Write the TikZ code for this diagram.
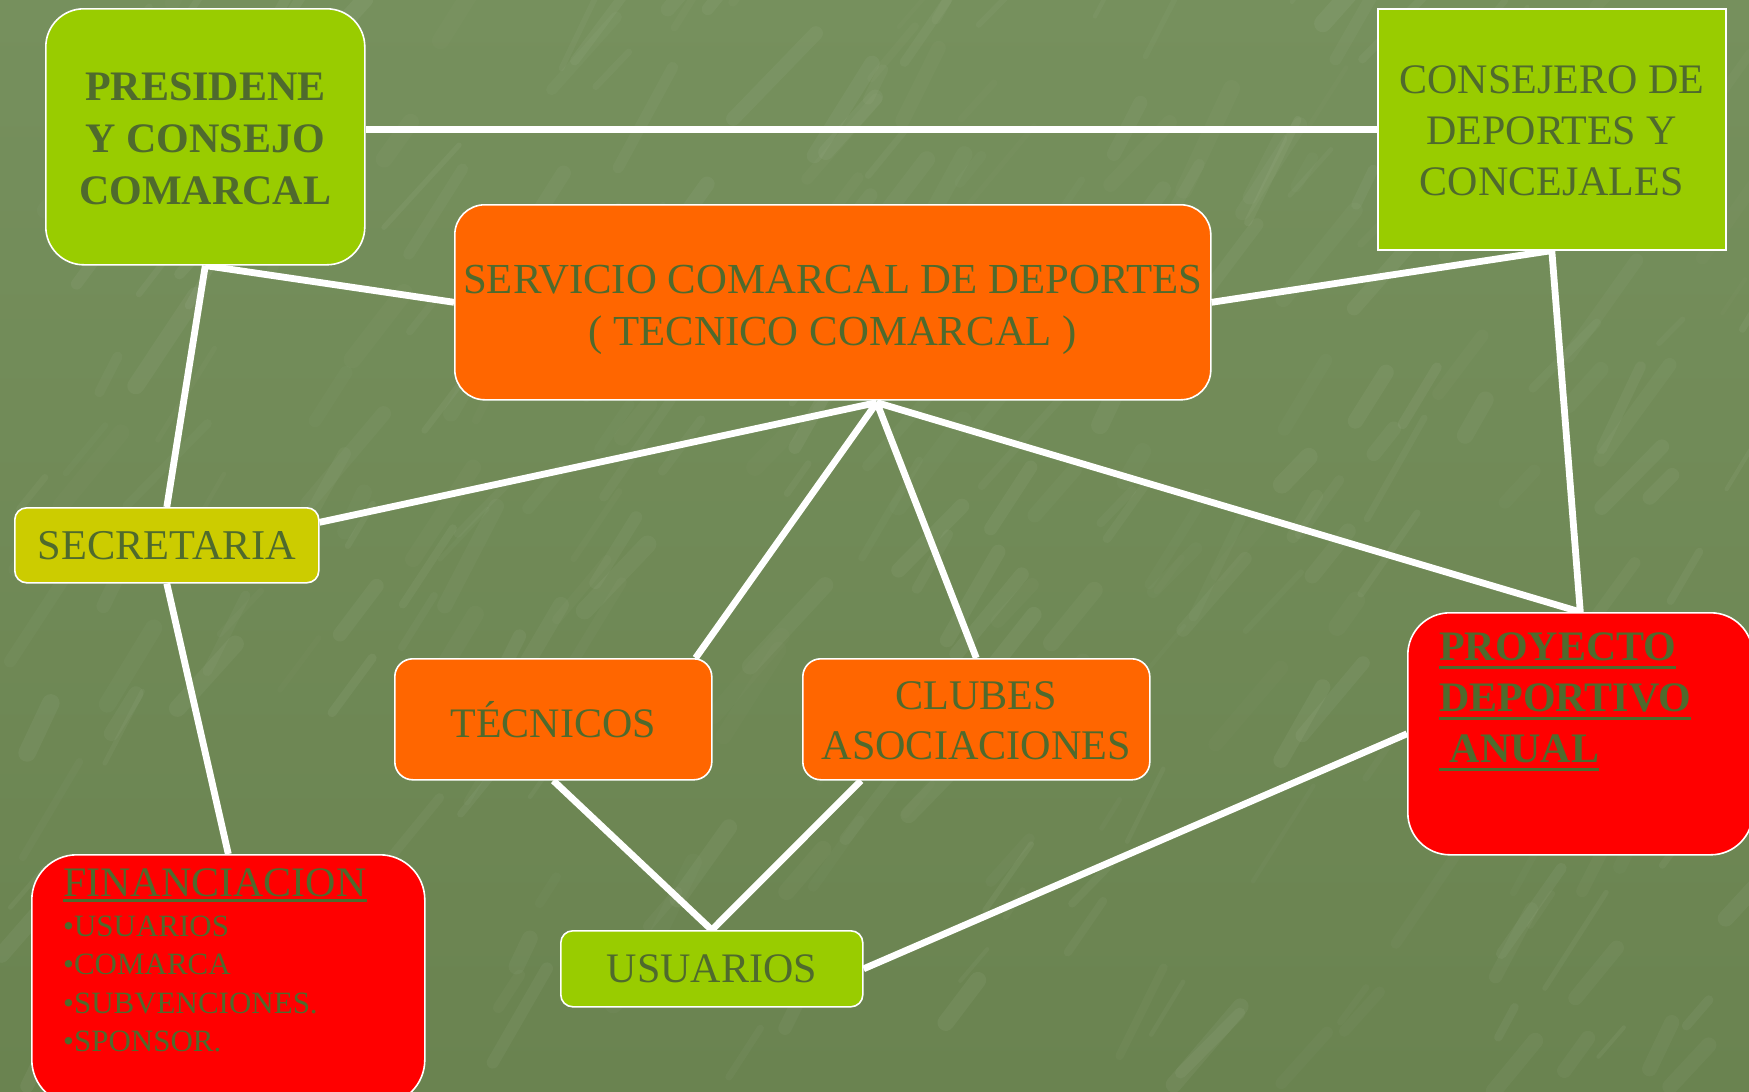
\documentclass[tikz,border=0pt]{standalone}
\usepackage{fontspec}
\setmainfont{Liberation Serif}
\usetikzlibrary{calc}
\pgfdeclarelayer{bg}
\pgfsetlayers{bg,main}
\definecolor{txt}{HTML}{4F6A2D}
\definecolor{lime}{HTML}{99CC00}
\definecolor{orng}{HTML}{FF6600}
\definecolor{ylw}{HTML}{CCCC00}
\definecolor{rd}{HTML}{FF0000}
\definecolor{bgtop}{HTML}{76905D}
\definecolor{bgbot}{HTML}{6A8350}
\newcommand\myul[3]{\setbox0\hbox{#3}\rlap{\rule[-#1]{\wd0}{#2}}\box0}
\tikzset{
  box/.style={draw=white, line width=1.6pt, inner sep=0pt, anchor=north west,
    text=txt, font=\fontsize{42}{51}\selectfont, align=center},
  conn/.style={draw=white, line width=6.8pt},
  streak/.style={white, line cap=round},
}
\begin{document}
\begin{tikzpicture}[x=1pt,y=-1pt]
\useasboundingbox (0,0) rectangle (1749,1092);
\begin{pgfonlayer}{bg}
  \shade[top color=bgtop, bottom color=bgbot] (0,0) rectangle (1749,1092);
  \pgfmathsetseed{11}
  \foreach \i in {1,...,300}{
    \pgfmathsetmacro\xx{rnd*1749}
    \pgfmathsetmacro\yy{rnd*1092}
    \pgfmathsetmacro\ll{30+rnd*90}
    \pgfmathsetmacro\aa{-45-rnd*20}
    \pgfmathsetmacro\ww{4+rnd*14}
    \pgfmathsetmacro\oo{0.015+rnd*0.035}
    \draw[streak, line width=\ww pt, opacity=\oo] (\xx,\yy) -- ++(\aa:\ll);
  }
\end{pgfonlayer}

\node[box, fill=lime, rounded corners=38pt, minimum width=319pt, minimum height=256pt,
      font=\fontsize{42}{52}\selectfont\bfseries] (pres) at (45,8)
      {\rule{0pt}{32pt}PRESIDENE\\Y CONSEJO\\COMARCAL};
\node[box, fill=lime, minimum width=348pt, minimum height=241pt] (cons) at (1377,8)
      {\rule{0pt}{31pt}CONSEJERO DE\\DEPORTES Y\\CONCEJALES};
\node[box, fill=orng, rounded corners=30pt, minimum width=756pt, minimum height=195pt,
      font=\fontsize{42.8}{52}\selectfont] (serv) at (454,204)
      {\rule{0pt}{44pt}SERVICIO COMARCAL DE DEPORTES\\( TECNICO COMARCAL )};
\node[box, fill=ylw, rounded corners=12pt, minimum width=304pt, minimum height=75pt,
      font=\fontsize{42.4}{51}\selectfont] (secr) at (14,507)
      {SECRETARIA};
\node[box, fill=orng, rounded corners=18pt, minimum width=317pt, minimum height=121pt] (tec) at (394,658)
      {TÉCNICOS};
\node[box, fill=orng, rounded corners=18pt, minimum width=347pt, minimum height=121pt,
      font=\fontsize{42.2}{50}\selectfont] (club) at (802,658)
      {\rule{0pt}{30pt}CLUBES\\ASOCIACIONES};
\node[box, fill=lime, rounded corners=12pt, minimum width=302pt, minimum height=76pt] (usu) at (560,930)
      {USUARIOS};
\node[box, fill=rd, rounded corners=42pt, minimum width=345pt, minimum height=242pt] (proy) at (1407,612) {};
\node[box, fill=rd, rounded corners=45pt, minimum width=393pt, minimum height=250pt] (fin) at (31,854) {};

\node[anchor=north west, inner sep=0pt, text=txt, align=left,
      font=\fontsize{42}{51}\selectfont\bfseries] (proytxt) at (1439,632)
      {\myul{9pt}{3.5pt}{PROYECTO}\\\myul{9pt}{3.5pt}{DEPORTIVO}\\\myul{9pt}{3.5pt}{\ ANUAL}};
\node[anchor=north west, inner sep=0pt, text=txt, align=left,
      font=\fontsize{31}{38.5}\selectfont] (fintxt) at (63,868)
      {{\fontsize{42}{51}\selectfont\myul{5.5pt}{2.5pt}{FINANCIACION}}\\[1.5pt]
       •USUARIOS\\•COMARCA\\•SUBVENCIONES.\\•SPONSOR.};

\coordinate (hub) at ($(serv.south)+(44,2)$);
\begin{pgfonlayer}{bg}
  \draw[conn] (cons.west -| pres.east) -- (cons.west);
  \draw[conn] (pres.south) -- (serv.west);
  \draw[conn] (pres.south) -- (secr.north);
  \draw[conn] (cons.south) -- (serv.east);
  \draw[conn] (cons.south) -- (proy.north);
  \draw[conn] (hub) -- ($(secr.east)+(0,-23)$);
  \draw[conn] (hub) -- ($(tec.north east)+(-17,0)$);
  \draw[conn] (hub) -- (club.north);
  \draw[conn] (hub) -- (proy.north);
  \draw[conn] (secr.south) -- (fin.north);
  \draw[conn] (tec.south) -- (usu.north);
  \draw[conn] ($(club.south west)+(59,0)$) -- (usu.north);
  \draw[conn] (usu.east) -- (proy.west);
\end{pgfonlayer}
\end{tikzpicture}
\end{document}
